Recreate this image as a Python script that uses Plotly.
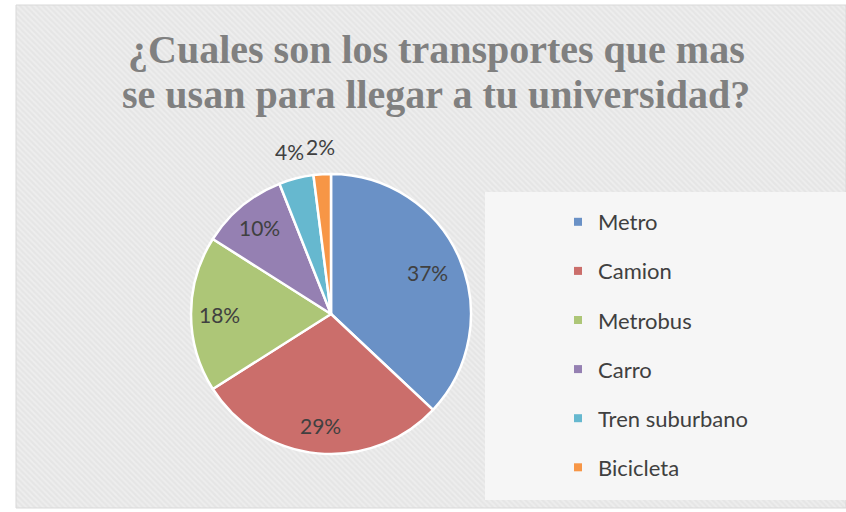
import math
import plotly.graph_objects as go

categories = ["Metro", "Camion", "Metrobus", "Carro", "Tren suburbano", "Bicicleta"]
values = [37, 29, 18, 10, 4, 2]
colors = ["#6a91c6", "#cb6e6b", "#adc677", "#9580b2", "#66b8cf", "#f79646"]
label_radius = [0.75, 0.8, 0.8, 0.8, 1.2, 1.2]
title_lines = ["<b>¿Cuales son los transportes que mas</b>",
               "<b>se usan para llegar a tu universidad?</b>"]

W, H = 846, 512


def px(x):
    return x / W


def py(y):
    return 1 - y / H


CX, CY, R = 331, 314, 140
AREA = dict(x0=16, x1=846, y0=5, y1=508)

fig = go.Figure()

# patterned chart-area background (pixel-space axes)
fig.add_trace(go.Scatter(
    x=[AREA["x0"], AREA["x1"], AREA["x1"], AREA["x0"], AREA["x0"]],
    y=[H - AREA["y1"], H - AREA["y1"], H - AREA["y0"], H - AREA["y0"], H - AREA["y1"]],
    xaxis="x", yaxis="y", mode="lines", fill="toself",
    line=dict(width=1, color="#d9d9d9"),
    fillcolor="#ebebeb",
    fillpattern=dict(shape="\\", size=4, solidity=0.45, fgcolor="#f7f7f7", bgcolor="#e5e5e5"),
    showlegend=False, hoverinfo="skip",
))

fig.add_trace(go.Pie(
    labels=categories, values=values, sort=False, direction="clockwise", rotation=0,
    marker=dict(colors=colors, line=dict(color="white", width=2.5)),
    textinfo="none",
    domain=dict(x=[px(CX - R), px(CX + R)], y=[py(CY + R), py(CY - R)]),
    showlegend=False, hoverinfo="label+percent",
))

for c, col in zip(categories, colors):
    fig.add_trace(go.Scatter(
        x=[None], y=[None], mode="markers", name=c, legendgroup=c,
        marker=dict(symbol="square", size=8, color=col),
    ))

# data labels placed at each slice's mid-angle
annotations = []
total = sum(values)
cum = 0
for v, f in zip(values, label_radius):
    mid = (cum + v / 2) / total * 2 * math.pi
    cum += v
    lx = CX + f * R * math.sin(mid)
    ly = CY - f * R * math.cos(mid)
    annotations.append(dict(
        text=f"{v}%", xref="paper", yref="paper", x=px(lx), y=py(ly),
        xanchor="center", yanchor="middle", showarrow=False,
        font=dict(family="Lato", size=21, color="#404040"),
    ))

for line, yc in zip(title_lines, [49, 94]):
    annotations.append(dict(
        text=line, xref="paper", yref="paper", x=px(436), y=py(yc),
        xanchor="center", yanchor="middle", showarrow=False, align="center",
        font=dict(family="Liberation Serif", size=40, color="#808080"),
    ))

fig.update_layout(
    width=W, height=H,
    margin=dict(l=0, r=0, t=0, b=0),
    paper_bgcolor="white", plot_bgcolor="rgba(0,0,0,0)",
    xaxis=dict(visible=False, range=[0, W], domain=[0, 1], fixedrange=True),
    yaxis=dict(visible=False, range=[0, H], domain=[0, 1], fixedrange=True),
    showlegend=True,
    legend=dict(x=px(558), y=py(201), xanchor="left", yanchor="top",
                font=dict(family="Lato", size=22, color="#404040"),
                tracegroupgap=17.5, bgcolor="rgba(0,0,0,0)"),
    shapes=[
        dict(type="rect", xref="paper", yref="paper", x0=px(485), x1=1, y0=py(500), y1=py(192),
             fillcolor="#f6f6f6", line=dict(width=0), layer="above"),
    ],
    annotations=annotations,
)

fig.write_html("out.html", config={"displayModeBar": False},
               post_script="document.body.style.margin='0px';")
